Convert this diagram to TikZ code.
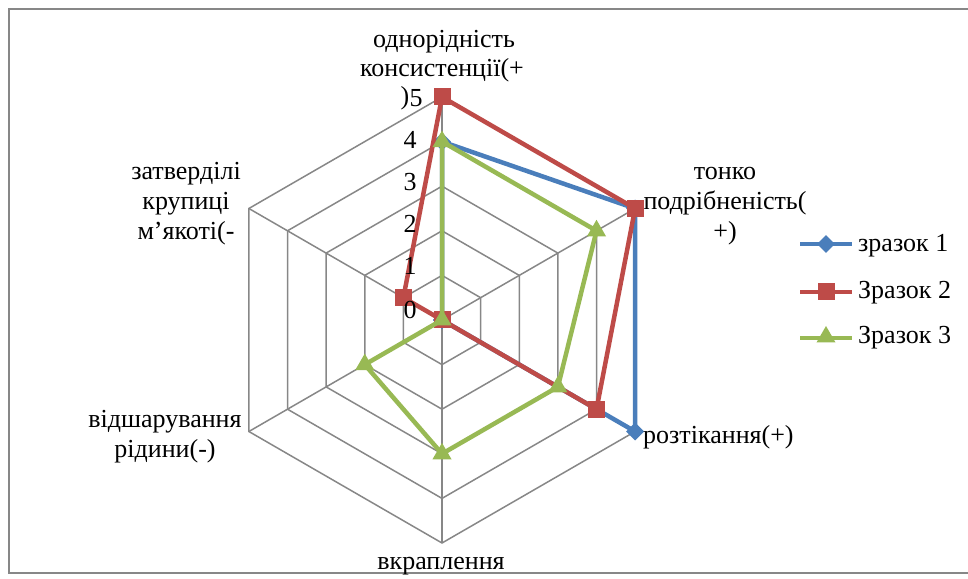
\documentclass[tikz,border=0pt]{standalone}
\usepackage{fontspec}
\setmainfont{Liberation Serif}
\usetikzlibrary{shapes.geometric}
\definecolor{sone}{HTML}{4A7EBB}
\definecolor{stwo}{HTML}{BE4B48}
\definecolor{sthree}{HTML}{98B954}
\definecolor{gridc}{HTML}{878787}
\tikzset{
 lbl/.style={font=\fontsize{26}{30}\selectfont, inner sep=0pt, align=center},
 gridline/.style={draw=gridc, line width=1.5pt},
 dia/.style={diamond, fill=sone, inner sep=0pt, minimum size=18pt},
 sq/.style={rectangle, fill=stwo, inner sep=0pt, minimum size=17pt},
 tri/.style={regular polygon, regular polygon sides=3, fill=sthree, inner sep=0pt, minimum size=22pt},
 ser/.style={line width=4.5pt, line join=round}
}
\begin{document}
\begin{tikzpicture}[x=1pt,y=1pt]
\useasboundingbox (0,0) rectangle (968,578);
\draw[gridc, line width=2pt] (972,569) -- (9,569) -- (9,5) -- (972,5);
\begin{scope}[shift={(442,258)}]
 \foreach \k in {1,...,5}
  \draw[gridline] (90:{\k*44.6}) -- (30:{\k*44.6}) -- (-30:{\k*44.6}) -- (-90:{\k*44.6}) -- (210:{\k*44.6}) -- (150:{\k*44.6}) -- cycle;
 \foreach \a in {90,30,-30,-90,210,150}
  \draw[gridline] (0,0) -- (\a:{5*44.6});
 % series 1
 \foreach \a/\v [count=\i] in {90/4,30/5,-30/5,-90/0,210/0,150/0}
  \coordinate (pa\i) at (\a:{\v*44.6});
 \draw[ser, sone] (pa1) -- (pa2) -- (pa3) -- (pa4) -- (pa5) -- (pa6) -- cycle;
 \foreach \i in {1,...,6} \node[dia] (ma\i) at (pa\i) {};
 % series 2
 \foreach \a/\v [count=\i] in {90/5,30/5,-30/4,-90/0,210/0,150/1}
  \coordinate (pb\i) at (\a:{\v*44.6});
 \draw[ser, stwo] (pb1) -- (pb2) -- (pb3) -- (pb4) -- (pb5) -- (pb6) -- cycle;
 \foreach \i in {1,...,6} \node[sq] (mb\i) at (pb\i) {};
 % series 3
 \foreach \a/\v [count=\i] in {90/4,30/4,-30/3,-90/3,210/2,150/0}
  \coordinate (pc\i) at (\a:{\v*44.6});
 \draw[ser, sthree] (pc1) -- (pc2) -- (pc3) -- (pc4) -- (pc5) -- (pc6) -- cycle;
 \foreach \i in {1,...,6} \node[tri] (mc\i) at (pc\i) {};
\end{scope}
% tick labels
\node[lbl] (t0) at (410,268) {0};
\node[lbl] (t1) at (410,312) {1};
\node[lbl] (t2) at (410,354) {2};
\node[lbl] (t3) at (410,396) {3};
\node[lbl] (t4) at (410,438) {4};
\node[lbl] (t5) at (416,480) {5};
% axis labels
\node[lbl] (l1a) at (444,536) {однорідність};
\node[lbl] (l1b) at (442,508) {консистенції(+};
\node[lbl] (l1c) at (405,480) {)};
\node[lbl] (l2) at (725,372) {тонко\\подрібненість(\\+)};
\node[lbl, anchor=west] (l3) at (643,141) {розтікання(+)};
\node[lbl] (l4) at (441,12) {вкраплення};
\node[lbl] (l5) at (165,141) {відшарування\\рідини(-)};
\node[lbl] (l6) at (186,374) {затверділі\\крупиці\\м’якоті(-};
% legend
\coordinate (ga1) at (800,334); \coordinate (ga2) at (852,334);
\draw[ser, sone] (ga1) -- (ga2);
\node[dia] (gma) at (826,334) {};
\node[lbl, anchor=west] (gta) at (858,332) {зразок 1};
\coordinate (gb1) at (800,286); \coordinate (gb2) at (852,286);
\draw[ser, stwo] (gb1) -- (gb2);
\node[sq] (gmb) at (826,286) {};
\node[lbl, anchor=west] (gtb) at (858,285) {Зразок 2};
\coordinate (gc1) at (800,240); \coordinate (gc2) at (852,240);
\draw[ser, sthree] (gc1) -- (gc2);
\node[tri] (gmc) at (826,241) {};
\node[lbl, anchor=west] (gtc) at (858,240) {Зразок 3};
\end{tikzpicture}
\end{document}
